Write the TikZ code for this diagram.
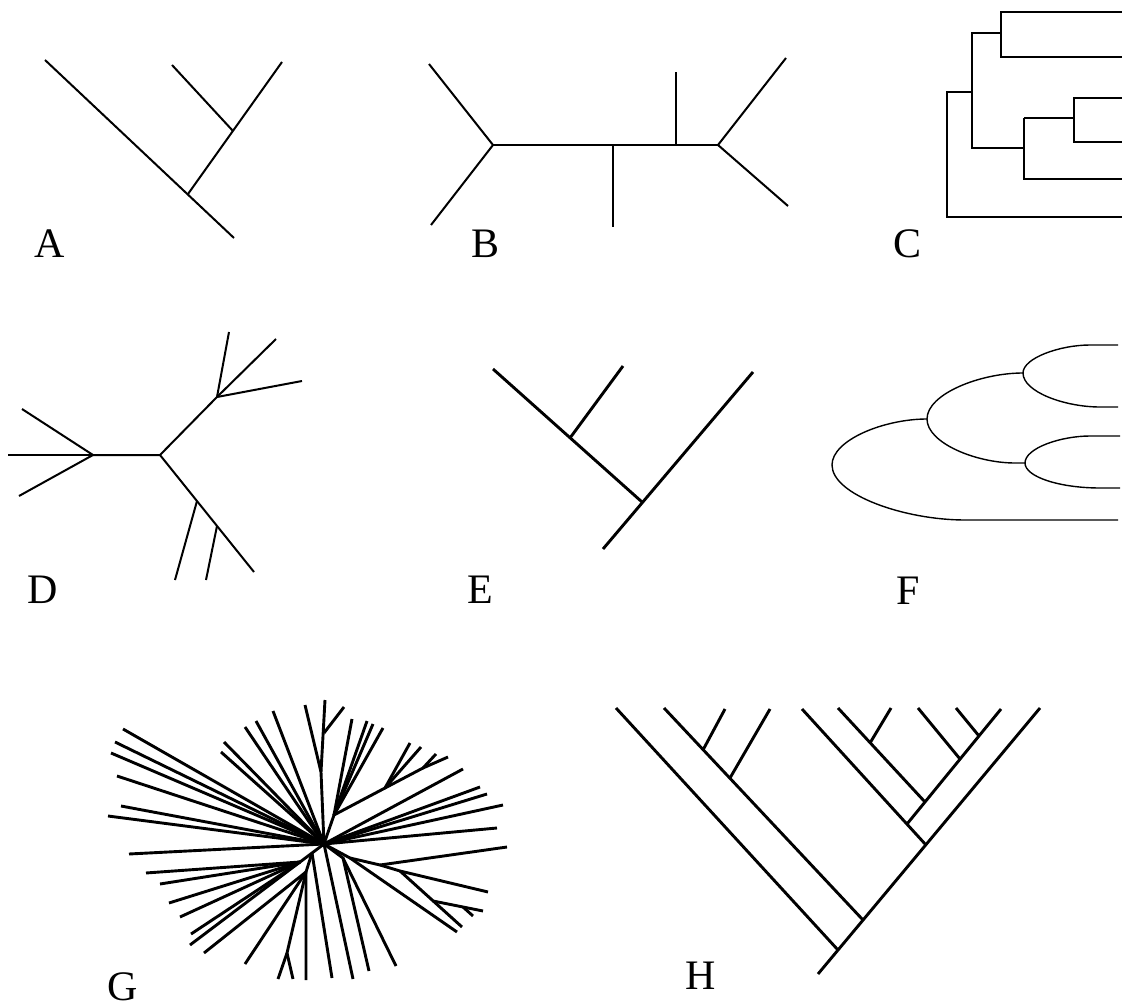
\documentclass[tikz,border=0pt]{standalone}
\usepackage{fontspec}
\setmainfont{Liberation Serif}
\begin{document}
\begin{tikzpicture}[x=1pt,y=-1pt,
  fine/.style={line width=1.4pt},
  mid/.style={line width=2pt},
  bold/.style={line width=2.9pt},
  panel/.style={inner sep=0pt, font=\fontsize{42}{42}\selectfont}]
\path[use as bounding box, fill=white] (0,0) rectangle (1122,1008);

% ---------- A ----------
\coordinate (aR) at (234,238);
\coordinate (a1) at (188,194);
\coordinate (a2) at (233,131);
\coordinate (aL1) at (45,60);
\coordinate (aL2) at (172,65);
\coordinate (aL3) at (282,62);
\draw[mid] (aR) -- (aL1);
\draw[mid] (a1) -- (aL3);
\draw[mid] (a2) -- (aL2);
\node[panel] (labA) at (50,244) {A};

% ---------- B ----------
\coordinate (b1) at (493,145);
\coordinate (b2) at (718,145);
\coordinate (b3) at (613,145);
\coordinate (b4) at (676,145);
\coordinate (bL1) at (429,64);
\coordinate (bL2) at (431,225);
\coordinate (bL3) at (786,58);
\coordinate (bL4) at (788,206);
\coordinate (bL5) at (613,227);
\coordinate (bL6) at (676,72);
\draw[mid] (b1) -- (b2);
\draw[mid] (bL1) -- (b1) -- (bL2);
\draw[mid] (bL3) -- (b2) -- (bL4);
\draw[mid] (b3) -- (bL5);
\draw[mid] (b4) -- (bL6);
\node[panel] (labB) at (486,244) {B};

% ---------- C ----------
\coordinate (c0) at (947,92);
\coordinate (c1) at (972,33);
\coordinate (c2) at (1001,12);
\coordinate (c3) at (1024,148);
\coordinate (c4) at (1074,98);
\draw[fine] (1122,12) -- (1001,12) -- (1001,57) -- (1122,57);
\draw[fine] (1001,33) -- (972,33) -- (972,148) -- (1024,148);
\draw[fine] (1024,118) -- (1024,179) -- (1122,179);
\draw[fine] (1024,118) -- (1074,118);
\draw[fine] (1122,98) -- (1074,98) -- (1074,142) -- (1122,142);
\draw[fine] (972,92) -- (947,92) -- (947,217) -- (1122,217);
\node[panel] (labC) at (907,244) {C};

% ---------- D ----------
\coordinate (d0) at (160,455);
\coordinate (d1) at (93,455);
\coordinate (d2) at (217,397);
\coordinate (d3) at (254,572);
\coordinate (d4) at (197,501);
\coordinate (d5) at (217,526);
\draw[mid] (d1) -- (d0) -- (d2);
\draw[mid] (d0) -- (d3);
\foreach \p in {(22,409),(8,455),(19,496)} \draw[mid] (d1) -- \p;
\foreach \p in {(229,332),(276,339),(302,381)} \draw[mid] (d2) -- \p;
\draw[mid] (d4) -- (175,580);
\draw[mid] (d5) -- (206,580);
\node[panel] (labD) at (43,590) {D};

% ---------- E ----------
\coordinate (e0) at (603,549);
\coordinate (e1) at (642,502);
\coordinate (e2) at (570,438);
\draw[bold] (e0) -- (753,372);
\draw[bold] (e1) -- (493,369);
\draw[bold] (e2) -- (623,366);
\node[panel] (labE) at (480,590) {E};

% ---------- F ----------
\coordinate (fR) at (832,465);
\coordinate (fM) at (927,419);
\coordinate (fT) at (1023,373);
\coordinate (fL) at (1025,463);
\draw[fine] (fR) .. controls (832,440) and (884,419) .. (fM);
\draw[fine] (fR) .. controls (832,495) and (905,520) .. (965,520) -- (1118,520);
\draw[fine] (fM) .. controls (927,394) and (980,373) .. (fT);
\draw[fine] (fM) .. controls (927,443) and (976,463) .. (1015,463) -- (fL);
\draw[fine] (fT) .. controls (1023,358) and (1060,345) .. (1090,345) -- (1118,345);
\draw[fine] (fT) .. controls (1023,392) and (1065,407) .. (1100,407) -- (1118,407);
\draw[fine] (fL) .. controls (1025,448) and (1061,436) .. (1090,436) -- (1120,436);
\draw[fine] (fL) .. controls (1025,477) and (1060,488) .. (1100,488) -- (1120,488);
\node[panel] (labF) at (908,591) {F};

% ---------- G ----------
\coordinate (gO) at (324,844);
\coordinate (gN) at (321,772);
\coordinate (gV) at (324,733);
\coordinate (gU1) at (334,815);
\coordinate (gU2) at (385,788);
\coordinate (gU4) at (423,768);
\coordinate (gR1) at (350,858);
\coordinate (gR2) at (380,865);
\coordinate (gR3) at (400,871);
\coordinate (gR4) at (433,901);
\coordinate (gR5) at (463,907);
\coordinate (gN1) at (343,858);
\coordinate (gT1) at (312,853);
\coordinate (gT2) at (300,862);
\coordinate (gT3) at (306,872);
\coordinate (gF1) at (287,953);
% tips joined straight to the centre
\foreach \p in {(123,729),(115,742),(111,753),(117,776),(121,806),(108,816),(129,854),
  (224,742),(221,752),(245,727),(256,721),(273,711),
  (463,769),(480,787),(487,794),(503,805),(497,828),(353,979)}
  \draw[bold] (gO) -- \p;
% upper fork
\draw[bold] (gO) -- (gN) -- (325,700);
\draw[bold] (gN) -- (305,705);
\draw[bold] (gV) -- (344,707);
% upper right clade
\draw[bold] (gO) -- (gU1) -- (gU2) -- (410,743);
\draw[bold] (gU2) -- (421,747);
\draw[bold] (gU2) -- (gU4) -- (436,754);
\draw[bold] (gU4) -- (448,757);
\foreach \p in {(352,719),(367,721),(373,724),(383,728)} \draw[bold] (gU1) -- \p;
% lower right clade
\draw[bold] (gO) -- (gR1) -- (gR2) -- (gR3) -- (488,892);
\draw[bold] (gR2) -- (507,847);
\draw[bold] (gR1) -- (457,932);
\draw[bold] (gR3) -- (462,927);
\draw[bold] (gR4) -- (gR5) -- (483,911);
\draw[bold] (gR5) -- (473,916);
% lower clade
\draw[bold] (gO) -- (gN1) -- (369,971);
\draw[bold] (gN1) -- (396,966);
% lower left clade
\draw[bold] (gO) -- (gT1) -- (gT2);
\draw[bold] (gT1) -- (gT3) -- (306,980);
\draw[bold] (gT1) -- (332,978);
\draw[bold] (gT3) -- (gF1) -- (278,979);
\draw[bold] (gF1) -- (293,979);
\foreach \p in {(204,953),(245,964)} \draw[bold] (gT3) -- \p;
\foreach \p in {(146,873),(160,884),(169,903),(180,917),(191,934),(190,945)}
  \draw[bold] (gT2) -- \p;
\node[panel] (labG) at (123,987) {G};

% ---------- H ----------
\coordinate (hR) at (818,974);
\coordinate (h1) at (838,950);
\coordinate (h2) at (863,920);
\coordinate (h3) at (703,750);
\coordinate (h4) at (730,778);
\coordinate (h5) at (926,845);
\coordinate (h6) at (907,824);
\coordinate (h7) at (925,802);
\coordinate (h8) at (870,743);
\coordinate (h9) at (960,759);
\coordinate (h10) at (979,736);
\draw[bold] (hR) -- (1040,708);
\draw[bold] (h1) -- (616,708);
\draw[bold] (h2) -- (664,708);
\draw[bold] (h3) -- (725,709);
\draw[bold] (h4) -- (770,709);
\draw[bold] (h5) -- (802,709);
\draw[bold] (h6) -- (1001,709);
\draw[bold] (h7) -- (838,708);
\draw[bold] (h8) -- (891,708);
\draw[bold] (h9) -- (918,708);
\draw[bold] (h10) -- (956,708);
\node[panel] (labH) at (701,976) {H};
\end{tikzpicture}
\end{document}
